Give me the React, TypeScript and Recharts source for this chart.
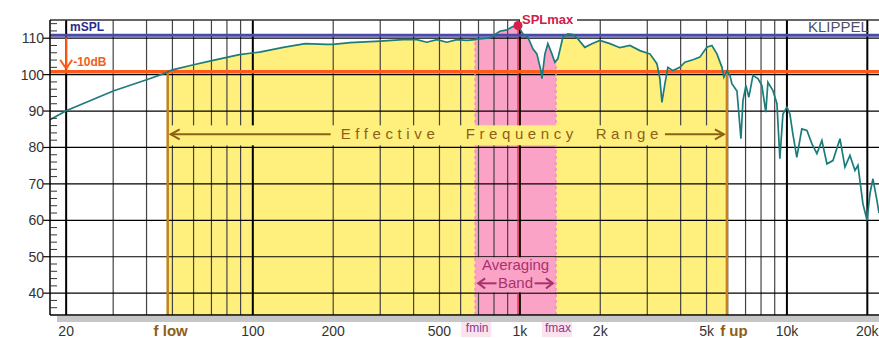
import React from 'react'
import {
  ComposedChart,
  Line,
  Area,
  XAxis,
  YAxis,
  ReferenceLine,
  ReferenceDot,
} from 'recharts'

const freqs = [
  17.4, 20, 30, 40, 47, 48, 50, 60, 71, 89, 106, 130, 157, 189, 200, 231, 300,
  365, 411, 448, 489, 533, 581, 633, 680, 690, 708, 772, 841, 894, 942, 984,
  1026, 1071, 1119, 1158, 1199, 1209, 1241, 1273, 1318, 1352, 1365, 1387, 1449,
  1513, 1580, 1649, 1751, 1861, 1993, 2174, 2370, 2583, 2815, 3069, 3259, 3344,
  3404, 3492, 3583, 3741, 3972, 4150, 4446, 4721, 5013, 5236, 5469, 5712, 5808,
  5960, 6118, 6221, 6500, 6727, 6845, 7022, 7204, 7460, 7788, 8058, 8337, 8487,
  8866, 9175, 9411, 9661, 10000, 10260, 10520, 10890, 11370, 11880, 12410,
  12950, 13520, 14120, 14870, 15800, 16490, 17220, 17980, 18450, 19260, 19950,
  20460, 20990, 21730, 22120,
]
const spl = [
  87.6, 90.1, 95.5, 98.6, 100.4, 100.8, 101.3, 102.7, 103.9, 105.5, 106.2,
  107.5, 108.5, 108.3, 108.3, 108.8, 109.2, 109.6, 109.6, 108.9, 109.6, 108.9,
  109.6, 109.4, 109.6, 109.8, 109.8, 110.1, 111.9, 112.3, 113.2, 113.5, 111.2,
  110.3, 107.1, 105.7, 101.1, 98.9, 105.7, 108.5, 105.7, 103.4, 103.8, 104.3,
  110.3, 111.2, 111.0, 109.8, 107.5, 108.5, 109.4, 108.5, 107.4, 108.0, 106.6,
  105.7, 103.0, 98.9, 92.4, 97.5, 102.0, 101.1, 102.0, 103.4, 104.1, 104.8,
  107.5, 108.0, 105.7, 102.0, 99.3, 101.0, 99.8, 97.5, 95.5, 82.4, 92.9, 97.0,
  93.8, 99.8, 98.9, 97.0, 89.7, 97.9, 95.6, 92.0, 76.9, 89.2, 91.1, 89.2, 83.8,
  77.3, 85.1, 84.7, 81.0, 78.3, 81.9, 75.5, 76.4, 82.4, 74.6, 77.8, 73.7, 75.1,
  64.5, 60.0, 67.3, 71.4, 65.5, 62.0,
]

const fLow = 48
const fUp = 5960
const fMin = 680
const fMax = 1365
const mSPL = 110.8
const minus10 = 100.8
const splMaxF = 984
const splMax = 113.5
const efrLevel = 83.6
const bandLevel = 42.7

const xDomain = [17.4, 22120]
const yDomain = [34, 115]

const xTicks = [20, 48, 100, 200, 500, 680, 1000, 1365, 2000, 5000, 5960, 10000, 20000]
const xTickLabels = ['20', 'f low', '100', '200', '500', 'fmin', '1k', 'fmax', '2k', '5k', 'f up', '10k', '20k']
const yTicks = [
  36, 38, 40, 42, 44, 46, 48, 50, 52, 54, 56, 58, 60, 62, 64, 66, 68, 70, 72, 74,
  76, 78, 80, 82, 84, 86, 88, 90, 92, 94, 96, 98, 100, 102, 104, 106, 108, 110,
  112, 114,
]
const yLabels = [40, 50, 60, 70, 80, 90, 100, 110]
const minorFreqs = [
  30, 40, 50, 60, 70, 80, 90, 200, 300, 400, 500, 600, 700, 800, 900, 2000,
  3000, 4000, 5000, 6000, 7000, 8000, 9000,
]
const majorFreqs = [20, 100, 1000, 10000, 20000]

const data = freqs.map((f, i) => ({
  f,
  spl: spl[i],
  yellow: f >= fLow && f <= fUp ? spl[i] : null,
  pink: f >= fMin && f <= fMax ? spl[i] : null,
}))

const splAt = (f: number) => spl[freqs.indexOf(f)]

const font = '"Liberation Sans", Arial, sans-serif'
const brown = '#8c6018'
const magenta = '#a8326e'
const orange = '#ff5a1a'
const yellowFill = '#fff07e'
const pinkFill = '#fba3c6'

const XTick = ({ x, y, payload }: any) => {
  const label = xTickLabels[xTicks.indexOf(payload.value)]
  if (label === 'f low' || label === 'f up') {
    return (
      <text x={x + (label === 'f up' ? 7 : 3)} y={y + 21} textAnchor="middle"
        fontSize={15} fontWeight="bold" fill={brown} fontFamily={font}
        style={{ whiteSpace: 'pre' }}>
        {label}
      </text>
    )
  }
  if (label === 'fmin' || label === 'fmax') {
    return (
      <g>
        <rect x={x - 14} y={y + 7} width={30} height={15} fill="#fbe2ef" />
        <text x={x + 2} y={y + 17} textAnchor="middle" fontSize={12}
          fill="#8a3a8a" fontFamily={font}>
          {label}
        </text>
      </g>
    )
  }
  return (
    <text x={x} y={y + 21} textAnchor="middle" fontSize={14} fill="#333"
      fontFamily={font}>
      {label}
    </text>
  )
}

const YTick = ({ x, y, payload }: any) => {
  const v = payload.value
  const major = yLabels.includes(v)
  return (
    <g>
      {major ? (
        <line x1={x - 7} x2={x} y1={y} y2={y} stroke="#000" strokeWidth={1.2} />
      ) : (
        <line x1={x} x2={x + 7} y1={y} y2={y} stroke="#333" strokeWidth={1} />
      )}
      {major && (
        <text x={x - 6} y={y + 5} textAnchor="end" fontSize={14} fill="#333"
          fontFamily={font}>
          {v}
        </text>
      )}
    </g>
  )
}

const DropArrow = ({ x1, y1, y2 }: any) => (
  <g>
    <line x1={x1} x2={x1} y1={y1 + 2} y2={y2 - 3} stroke={orange} strokeWidth={2} />
    <polyline points={`${x1 - 6},${y2 - 12} ${x1},${y2 - 3} ${x1 + 6},${y2 - 12}`}
      fill="none" stroke={orange} strokeWidth={2} />
    <text x={x1 + 7} y={y2 - 6} fontSize={12} fontWeight="bold" fill="#f06020"
      fontFamily={font}>
      -10dB
    </text>
  </g>
)

const EfrShape = ({ x1, x2, y1 }: any) => {
  const txt = { fontSize: 15, fill: brown, fontFamily: font, letterSpacing: 4.6 }
  return (
    <g>
      <rect x={x1 + 2} y={y1 - 9} width={x2 - x1 - 4} height={20} fill={yellowFill} />
      <line x1={x1 + 3} x2={x1 + 163} y1={y1} y2={y1} stroke={brown} strokeWidth={2} />
      <polyline points={`${x1 + 12},${y1 - 5} ${x1 + 3},${y1} ${x1 + 12},${y1 + 5}`}
        fill="none" stroke={brown} strokeWidth={2} />
      <text x={x1 + 173} y={y1 + 5} {...txt}>Effective</text>
      <text x={x1 + 298} y={y1 + 5} {...txt}>Frequency</text>
      <text x={x1 + 428} y={y1 + 5} {...txt}>Range</text>
      <line x1={x2 - 62} x2={x2 - 3} y1={y1} y2={y1} stroke={brown} strokeWidth={2} />
      <polyline points={`${x2 - 12},${y1 - 5} ${x2 - 3},${y1} ${x2 - 12},${y1 + 5}`}
        fill="none" stroke={brown} strokeWidth={2} />
    </g>
  )
}

const BandShape = ({ x1, x2, y1 }: any) => {
  const cx = (x1 + x2) / 2
  return (
    <g>
      <rect x={x1 + 1} y={y1 - 26} width={x2 - x1 - 2} height={35} fill={pinkFill} />
      <text x={cx} y={y1 - 13} textAnchor="middle" fontSize={15} fill={magenta}
        fontFamily={font}>Averaging</text>
      <text x={cx} y={y1 + 5} textAnchor="middle" fontSize={15} fill={magenta}
        fontFamily={font}>Band</text>
      <line x1={x1 + 3} x2={cx - 19} y1={y1} y2={y1} stroke={magenta} strokeWidth={2} />
      <polyline points={`${x1 + 10},${y1 - 5} ${x1 + 3},${y1} ${x1 + 10},${y1 + 5}`}
        fill="none" stroke={magenta} strokeWidth={2} />
      <line x1={cx + 19} x2={x2 - 3} y1={y1} y2={y1} stroke={magenta} strokeWidth={2} />
      <polyline points={`${x2 - 10},${y1 - 5} ${x2 - 3},${y1} ${x2 - 10},${y1 + 5}`}
        fill="none" stroke={magenta} strokeWidth={2} />
    </g>
  )
}

const SplMaxDot = ({ cx, cy }: any) => (
  <g>
    <rect x={cx + 2} y={10} width={57} height={15} fill="#fff" />
    <text x={cx + 4} y={24} fontSize={13} fontWeight="bold" fill="#d0204a"
      fontFamily={font}>SPLmax</text>
    <circle cx={cx} cy={cy} r={4.5} fill="#d81e4a" />
  </g>
)

export default function App() {
  return (
    <div style={{ position: 'absolute', left: 0, top: 0, width: 879, height: 338, background: '#fff' }}>
      <div style={{ position: 'absolute', left: 57, top: 316, width: 822, height: 6, background: '#c6c6c6' }} />
      <div style={{ position: 'absolute', left: 0, top: 0 }}>
        <ComposedChart width={879} height={338} data={data}
          margin={{ top: 20, right: 0, left: 0, bottom: 0 }}>
          <XAxis dataKey="f" type="number" scale="log" domain={xDomain}
            allowDataOverflow ticks={xTicks} interval={0} height={23}
            tickSize={0} tickMargin={0} tickLine={false} tick={<XTick />}
            axisLine={{ stroke: '#000', strokeWidth: 1.5 }} />
          <YAxis type="number" domain={yDomain} allowDataOverflow ticks={yTicks}
            interval={0} width={50} tickSize={0} tickMargin={0} tickLine={false}
            tick={<YTick />} axisLine={{ stroke: '#000', strokeWidth: 1.5 }} />

          <Area dataKey="yellow" type="linear" fill={yellowFill} fillOpacity={1}
            stroke="none" baseValue={yDomain[0]} isAnimationActive={false} />
          <Area dataKey="pink" type="linear" fill={pinkFill} fillOpacity={1}
            stroke="none" baseValue={yDomain[0]} isAnimationActive={false} />

          {minorFreqs.map((f) => (
            <ReferenceLine key={'m' + f} x={f} stroke="#444" strokeWidth={1.2} />
          ))}
          {majorFreqs.map((f) => (
            <ReferenceLine key={'M' + f} x={f} stroke="#000" strokeWidth={2} />
          ))}
          {yLabels.map((v) => (
            <ReferenceLine key={'h' + v} y={v} stroke="#000" strokeWidth={1.2} />
          ))}
          <ReferenceLine y={yDomain[1]} stroke="#333" strokeWidth={1.4} />

          <ReferenceLine segment={[{ x: fMin, y: yDomain[0] }, { x: fMin, y: splAt(fMin) }]}
            stroke="#f48cbc" strokeWidth={1.5} strokeDasharray="3 3" />
          <ReferenceLine segment={[{ x: fMax, y: yDomain[0] }, { x: fMax, y: splAt(fMax) }]}
            stroke="#f48cbc" strokeWidth={1.5} strokeDasharray="3 3" />
          <ReferenceLine segment={[{ x: splMaxF, y: yDomain[0] }, { x: splMaxF, y: splMax }]}
            stroke="#e8203c" strokeWidth={1.2} />
          <ReferenceLine segment={[{ x: fLow, y: efrLevel }, { x: fUp, y: efrLevel }]}
            shape={<EfrShape />} />
          <ReferenceLine segment={[{ x: fMin, y: bandLevel }, { x: fMax, y: bandLevel }]}
            shape={<BandShape />} />
          <ReferenceLine segment={[{ x: fLow, y: yDomain[0] }, { x: fLow, y: splAt(fLow) }]}
            stroke="#c4821c" strokeWidth={2.5} />
          <ReferenceLine segment={[{ x: fUp, y: yDomain[0] }, { x: fUp, y: splAt(fUp) }]}
            stroke="#c4821c" strokeWidth={2.5} />

          <ReferenceLine y={mSPL} stroke="#4a4aa8" strokeWidth={3}
            label={(p: any) => (
              <text x={p.viewBox.x + 20} y={p.viewBox.y - 4} fontSize={12}
                fontWeight="bold" fill="#2a2a8c" fontFamily={font}>mSPL</text>
            )} />
          <ReferenceLine y={minus10} stroke={orange} strokeWidth={3.5} />
          <ReferenceLine segment={[{ x: 20, y: mSPL }, { x: 20, y: minus10 }]}
            shape={<DropArrow />} />

          <Line dataKey="spl" type="linear" stroke="#1c7c7c" strokeWidth={1.7}
            dot={false} isAnimationActive={false} />
          <ReferenceDot x={splMaxF} y={splMax} shape={<SplMaxDot />} />
        </ComposedChart>
      </div>
      <div style={{ position: 'absolute', left: 808, top: 18, fontFamily: font, fontSize: 15, color: '#505068' }}>
        KLIPPEL
      </div>
    </div>
  )
}
